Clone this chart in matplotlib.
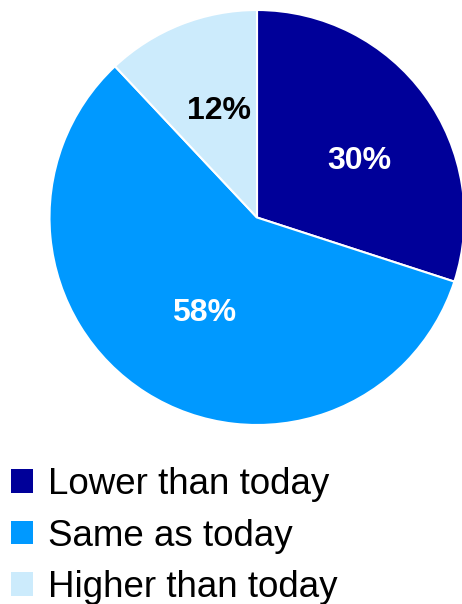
import matplotlib
matplotlib.use("Agg")
import matplotlib.pyplot as plt
from matplotlib.patches import Patch
from matplotlib.transforms import offset_copy

labels = ["Lower than today", "Same as today", "Higher than today"]
values = [30, 58, 12]
colors = ["#000099", "#0099FF", "#CCEBFC"]
label_colors = ["white", "white", "black"]
# fine nudge of percentage labels in pixels (dx, dy)
label_nudge = [(10, -11), (8, 1), (4, 0)]

plt.rcParams['font.family'] = ['Liberation Sans', 'DejaVu Sans']

W, H = 462, 604
fig = plt.figure(figsize=(W / 100, H / 100), dpi=100)
cx, cy, R = 257, 217.5, 207.5
ax = fig.add_axes([(cx - R) / W, (H - cy - R) / H, 2 * R / W, 2 * R / H])

wedges, texts, autotexts = ax.pie(
    values, colors=colors, startangle=90, counterclock=False,
    autopct=lambda p: f"{p:.0f}%", pctdistance=0.55,
    wedgeprops=dict(edgecolor="white", linewidth=1.5),
    textprops=dict(fontsize=23, fontweight="bold"))
for t, c, (dx, dy) in zip(autotexts, label_colors, label_nudge):
    t.set_color(c)
    t.set_transform(offset_copy(ax.transData, fig=fig, x=dx, y=dy, units="dots"))
ax.set_xlim(-1, 1)
ax.set_ylim(-1, 1)
ax.set_aspect("equal")
ax.axis("off")

handles = [Patch(facecolor=c, edgecolor="none") for c in colors]
leg = fig.legend(handles, labels, loc="upper left",
                 bbox_to_anchor=(11 / W, 1 - 467 / H),
                 frameon=False, fontsize=26.5,
                 handlelength=0.6, handleheight=0.6,
                 handletextpad=0.41, labelspacing=0.45,
                 borderpad=0, borderaxespad=0)

fig.savefig("out.png", dpi=100)
